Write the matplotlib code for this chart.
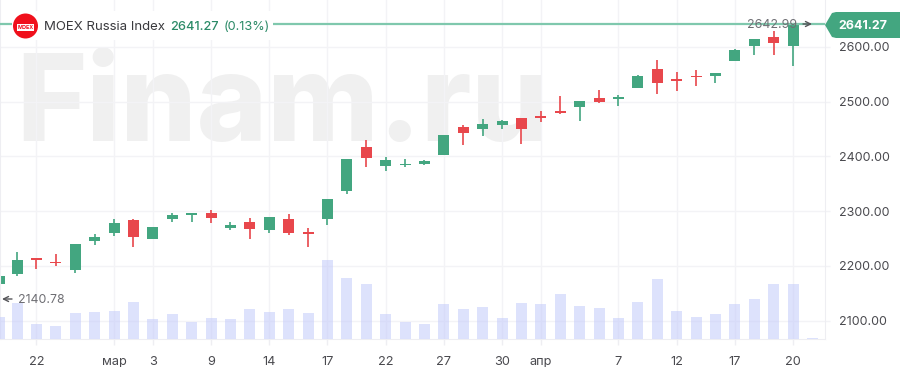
#! /usr/bin/env python3
# -*- coding: utf-8 -*-
import numpy as np
import matplotlib
matplotlib.use("Agg")
import matplotlib.pyplot as plt
from matplotlib.patches import Circle, Polygon, Rectangle
from matplotlib.transforms import Affine2D

W, H = 900, 382

# candle index, 0 = the "22" tick
idx = [-1.9] + list(range(-1, 41))

opens = [2167, 2185, 2215, 2208, 2192, 2245, 2260, 2283.5, 2249, 2285, 2293, 2296, 2270,
         2281, 2265, 2286, 2262, 2286, 2336, 2417, 2382, 2384, 2387, 2403, 2453, 2451,
         2457, 2471, 2474.5, 2483, 2490, 2507, 2505.6, 2524.6, 2560, 2541.5, 2547, 2547,
         2574.4, 2602.4, 2618, 2602, 2640]
closes = [2182, 2210, 2210, 2205.5, 2240, 2252, 2279, 2253.5, 2272, 2293, 2296, 2288, 2274,
          2268, 2290, 2261, 2257.5, 2322, 2395, 2398, 2393, 2387, 2391, 2439, 2442, 2459,
          2464, 2451, 2471, 2480, 2501, 2500, 2508, 2546.5, 2534, 2538, 2544.7, 2553,
          2594.5, 2615, 2607, 2641.27, 2641.27]
highs = [2183, 2226, 2215, 2221, 2240, 2258, 2286, 2286, 2272, 2297, 2297, 2302, 2281,
         2288, 2290, 2295, 2269.5, 2322, 2395, 2430, 2399, 2395, 2394, 2439, 2458, 2468.5,
         2467, 2471, 2483, 2510.5, 2501, 2521.5, 2512, 2548, 2576, 2554, 2558, 2553,
         2597, 2615, 2629, 2642.99, 2641.27]
lows = [2167, 2182, 2194, 2200, 2188, 2238, 2254, 2235, 2249, 2281, 2281, 2279, 2265,
        2249, 2261, 2256, 2235, 2274, 2331, 2381, 2373, 2380, 2384, 2403, 2421, 2437.5,
        2451, 2423, 2462.5, 2478, 2465, 2498, 2493, 2524.6, 2514, 2520, 2529, 2534,
        2574.4, 2586, 2586, 2565, 2640]
volumes = [22.3, 36, 15, 13.7, 26, 27.3, 28.7, 37.3, 20, 25, 17.3, 21.3, 20, 30, 27.3, 30,
           26.3, 79, 61.3, 55, 25, 17.7, 15, 35, 30, 32.3, 21.3, 36.3, 35, 45, 33.7, 31.3,
           21.3, 37.3, 60, 28.7, 22.3, 25, 35, 40, 55, 55, 1]

x_ticks = [0, 4, 6, 9, 12, 15, 18, 21, 24, 26, 30, 33, 36, 39]
x_labels = ["22", "мар", "3", "9", "14", "17", "22", "27", "30", "апр", "7", "12", "17", "20"]
y_ticks = [2100, 2200, 2300, 2400, 2500, 2600]

last_price = 2641.27
max_price = 2642.99
min_price = 2140.78

GREEN = "#43a680"
RED = "#e8474c"
TEXT = "#4a4a4f"
GRID = "#f3f3f6"

plt.rcParams["font.family"] = ["Inter", "DejaVu Sans"]

fig = plt.figure(figsize=(W / 100, H / 100), dpi=100)
ax = fig.add_axes([0, (H - 339.3) / H, 824.7 / W, 339.3 / H])
ax.set_xlim(-1.881, 40.63)
ax.set_ylim(2066, 2685.8)

# px coordinates, y going down, for the overlay bits
px = Affine2D().scale(1, -1).translate(0, H)

ax.set_axisbelow(True)
ax.grid(True, color=GRID, linewidth=1)
ax.set_xticks(x_ticks)
ax.set_xticklabels(x_labels)
ax.set_yticks(y_ticks)
ax.set_yticklabels(["%.2f" % v for v in y_ticks])
ax.yaxis.tick_right()
ax.tick_params(axis="x", length=4, width=1, color="#eeeef2", labelcolor=TEXT, labelsize=9.2, pad=8)
ax.tick_params(axis="y", length=3.6, width=1, color=GRID, labelcolor=TEXT, labelsize=9, pad=6.5)
for name, spine in ax.spines.items():
    spine.set_color("#eeeef2")
ax.spines["top"].set_visible(False)

ax.text(16, 141, "Finam.ru", transform=px, fontsize=86.5, fontweight="heavy",
        color="#f0f0f0", va="baseline", ha="left", zorder=0)

# candles
colors = [GREEN if c >= o else RED for o, c in zip(opens, closes)]
ax.vlines(idx, lows, highs, colors=colors, linewidth=1.2, zorder=2)
bottoms = np.minimum(opens, closes)
heights = np.maximum(np.abs(np.array(closes) - np.array(opens)), 2)
ax.bar(idx, heights, bottom=bottoms, width=0.57, color=colors, linewidth=0, zorder=2)

# volumes, separate axes on top so the grid shows through
ax_vol = fig.add_axes(ax.get_position(), sharex=ax)
ax_vol.set_ylim(0, 339.3)
ax_vol.patch.set_visible(False)
ax_vol.axis("off")
ax_vol.bar(idx, volumes, width=0.57, color="#c5cdfb", alpha=0.58, linewidth=0)

# last price line
ax.axhline(last_price, color="#7fc8ad", linewidth=1.6, zorder=3)

# header
ax.add_patch(Rectangle((12, 11), 261, 29, transform=px, facecolor="white", edgecolor="none", zorder=4))
ax.add_patch(Circle((25.5, 26), 12.5, transform=px, facecolor="#f0101c", edgecolor="none", zorder=5))
ax.add_patch(Rectangle((17, 23.5), 17, 7, transform=px, facecolor="white", edgecolor="none", zorder=6))
ax.text(25.5, 27.3, "MOEX", transform=px, fontsize=3.8, fontweight="bold", color="#f0101c",
        ha="center", va="center", zorder=7)
ax.text(43.5, 27, "MOEX Russia Index", transform=px, fontsize=9.5, color="#3a3a3e",
        ha="left", va="center", zorder=5)
ax.text(170, 27, "%.2f" % last_price, transform=px, fontsize=9.2, color="#2b8a67",
        ha="left", va="center", zorder=5, fontweight="medium")
ax.text(224, 27, "(0.13%)", transform=px, fontsize=9.2, color="#2b8a67",
        ha="left", va="center", zorder=5)

# min / max markers
ax.text(747, 24.5, "%.2f" % max_price, transform=px, fontsize=8.9, color="#6e6e73",
        ha="left", va="center", zorder=4)
ax.annotate("", xy=(812, 24), xytext=(803, 24), xycoords=px, textcoords=px,
            arrowprops=dict(arrowstyle="->", color="#555559", linewidth=1, mutation_scale=9,
                            shrinkA=0, shrinkB=0), zorder=4)
ax.text(18, 300, "%.2f" % min_price, transform=px, fontsize=8.9, color="#6e6e73",
        ha="left", va="center", zorder=4)
ax.annotate("", xy=(2, 299), xytext=(12, 299), xycoords=px, textcoords=px,
            arrowprops=dict(arrowstyle="->", color="#555559", linewidth=1, mutation_scale=9,
                            shrinkA=0, shrinkB=0), zorder=4)

# price tag on the right
tag = Polygon([(825, 25), (832, 13), (836, 12), (900, 12), (900, 38), (836, 38), (832, 37)],
              closed=True, transform=px, facecolor=GREEN, edgecolor="none", clip_on=False, zorder=6)
ax.add_patch(tag)
ax.text(838.5, 26, "%.2f" % last_price, transform=px, fontsize=9, fontweight="bold", color="white",
        ha="left", va="center", clip_on=False, zorder=7)

fig.savefig("out.png", dpi=100)
